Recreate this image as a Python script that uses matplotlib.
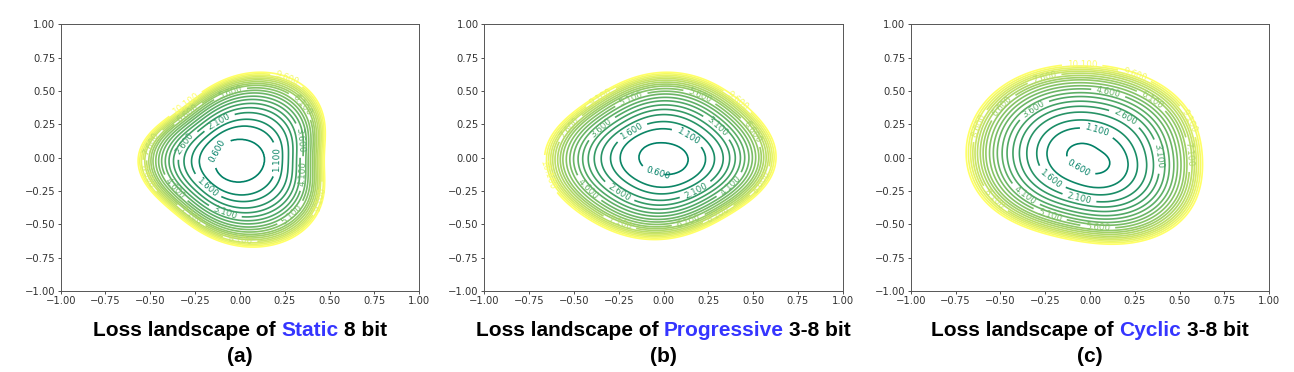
import numpy as np
import matplotlib
matplotlib.use("Agg")
import matplotlib.pyplot as plt

# ---------------- data ----------------
# contour levels of the loss
level_start, level_stop, level_step = 0.6, 10.1, 0.5

# (a) Static 8 bit : centre, innermost (0.6) contour, outermost contour
a_center = (-0.01, -0.03)
a_inner_x = [0.004, 0.106, 0.125, 0.097, 0.004, -0.108, -0.146, -0.108]
a_inner_y = [0.130, 0.105, -0.020, -0.145, -0.180, -0.130, -0.020, 0.080]
a_outer_x = [0.116, 0.300, 0.430, 0.470, 0.480, 0.450, 0.340, 0.134, -0.127,
             -0.330, -0.480, -0.556, -0.547, -0.313, -0.146]
a_outer_y = [0.635, 0.590, 0.430, 0.230, -0.070, -0.320, -0.570, -0.670, -0.607,
             -0.470, -0.270, 0.005, 0.130, 0.380, 0.555]

# (b) Progressive 3-8 bit
b_center = (-0.005, -0.005)
b_inner_x = [-0.023, 0.107, 0.134, 0.088, -0.005, -0.097, -0.138, -0.107]
b_inner_y = [0.110, 0.066, -0.020, -0.108, -0.126, -0.083, 0.004, 0.078]
b_outer_x = [0.014, 0.236, 0.420, 0.530, 0.607, 0.626, 0.477, 0.290, 0.088,
             -0.097, -0.283, -0.468, -0.616, -0.657, -0.600, -0.410, -0.210]
b_outer_y = [0.640, 0.589, 0.427, 0.277, 0.178, 0.004, -0.320, -0.494, -0.594,
             -0.606, -0.556, -0.420, -0.220, 0.004, 0.228, 0.427, 0.577]

# (c) Cyclic 3-8 bit
c_center = (-0.005, -0.010)
c_inner_x = [-0.109, -0.128, -0.081, 0.021, 0.096, 0.105, 0.077, 0.003, -0.055]
c_inner_y = [0.085, 0.010, -0.065, -0.120, -0.090, -0.015, 0.035, 0.098, 0.100]
c_outer_x = [-0.128, 0.208, 0.394, 0.525, 0.600, 0.633, 0.610, 0.506, 0.357,
             0.170, -0.090, -0.314, -0.538, -0.650, -0.683, -0.650, -0.538, -0.389]
c_outer_y = [0.694, 0.649, 0.561, 0.386, 0.185, -0.065, -0.266, -0.466, -0.590,
             -0.660, -0.617, -0.540, -0.390, -0.216, 0.035, 0.286, 0.486, 0.612]

# radial profile between the inner and outer contour (fraction of level range)
profile_t = [0.0, 0.2, 0.3, 0.4, 0.5, 0.6, 0.7, 0.8, 0.9, 1.0, 1.5, 3.0]
profile_f = [0.0, 0.053, 0.105, 0.158, 0.23, 0.32, 0.43, 0.57, 0.76, 1.0, 2.2, 6.0]
center_loss = 0.35

method_names = ["Static", "Progressive", "Cyclic"]
bit_labels = ["8 bit", "3-8 bit", "3-8 bit"]
panel_tags = ["(a)", "(b)", "(c)"]

# ---------------- build loss surfaces ----------------
levels = np.arange(level_start, level_stop + 1e-9, level_step)
gx = np.linspace(-1, 1, 601)
X, Y = np.meshgrid(gx, gx)


def harmonic_design(theta, k_max):
    cols = [np.ones_like(theta)]
    for k in range(1, k_max + 1):
        cols.append(np.cos(k * theta))
        cols.append(np.sin(k * theta))
    return np.stack(cols, axis=-1)


def smooth_radius(cx, cy, xs, ys, k_max, theta_grid):
    dx = np.asarray(xs) - cx
    dy = np.asarray(ys) - cy
    th = np.arctan2(dy, dx)
    r = np.hypot(dx, dy)
    coef, *_ = np.linalg.lstsq(harmonic_design(th, k_max), r, rcond=None)
    return harmonic_design(theta_grid, k_max) @ coef


def surface(center, ix, iy, ox, oy):
    cx, cy = center
    T = np.arctan2(Y - cy, X - cx)
    R = np.hypot(X - cx, Y - cy)
    rin = smooth_radius(cx, cy, ix, iy, 2, T)
    rout = smooth_radius(cx, cy, ox, oy, 4, T)
    t = (R - rin) / (rout - rin)
    span = level_stop - level_start
    Z = level_start + span * np.interp(t, profile_t, profile_f)
    inside = R < rin
    Z[inside] = center_loss + (level_start - center_loss) * (R[inside] / rin[inside])
    return Z


surfaces = [
    surface(a_center, a_inner_x, a_inner_y, a_outer_x, a_outer_y),
    surface(b_center, b_inner_x, b_inner_y, b_outer_x, b_outer_y),
    surface(c_center, c_inner_x, c_inner_y, c_outer_x, c_outer_y),
]

# ---------------- figure ----------------
fig = plt.figure(figsize=(12.94, 3.72), dpi=100)
axes_lefts = [0.0469, 0.3743, 0.7038]
ax_w, ax_h, ax_b = 0.2770, 0.7165, 0.2180

axes = []
for left, Z in zip(axes_lefts, surfaces):
    ax = fig.add_axes([left, ax_b, ax_w, ax_h])
    cs = ax.contour(X, Y, Z, levels=levels, cmap="summer", linewidths=1.2)
    ax.clabel(cs, inline=True, fontsize=6.3, fmt="%1.3f")
    ax.set_xlim(-1, 1)
    ax.set_ylim(-1, 1)
    ticks = np.arange(-1.0, 1.01, 0.25)
    ax.set_xticks(ticks)
    ax.set_yticks(ticks)
    ax.set_xticklabels([f"{v:.2f}".replace("-", "\u2212") for v in ticks])
    ax.set_yticklabels([f"{v:.2f}".replace("-", "\u2212") for v in ticks])
    ax.tick_params(labelsize=7.2, length=2.5, width=0.6, pad=1.5, colors="#333333")
    for sp in ax.spines.values():
        sp.set_linewidth(0.7)
        sp.set_color("#555555")
    axes.append(ax)

# ---------------- multi-coloured titles ----------------
renderer = fig.canvas.get_renderer()
tfam = ["Liberation Sans", "DejaVu Sans"]
tsize = 15


def text_width(s):
    t = fig.text(0, 0, s, fontsize=tsize, fontweight="bold", family=tfam)
    w = t.get_window_extent(renderer).width
    t.remove()
    return w


space_w = text_width("L L") - text_width("LL")
fig_w = fig.bbox.width

for ax, name, bits, tag in zip(axes, method_names, bit_labels, panel_tags):
    parts = [("Loss landscape of", "black"), (name, "#3535ff"), (bits, "black")]
    widths = [text_width(s) for s, _ in parts]
    total = sum(widths) + space_w * (len(parts) - 1)
    pos = ax.get_position()
    xc = (pos.x0 + pos.x1) / 2 * fig_w
    x = xc - total / 2
    for (s, c), w in zip(parts, widths):
        fig.text(x / fig_w, 0.097, s, color=c, fontsize=tsize, fontweight="bold",
                 family=tfam, ha="left", va="baseline")
        x += w + space_w
    fig.text((pos.x0 + pos.x1) / 2, 0.027, tag, color="black", fontsize=tsize,
             fontweight="bold", family=tfam, ha="center", va="baseline")

fig.savefig("out.png", dpi=100)
